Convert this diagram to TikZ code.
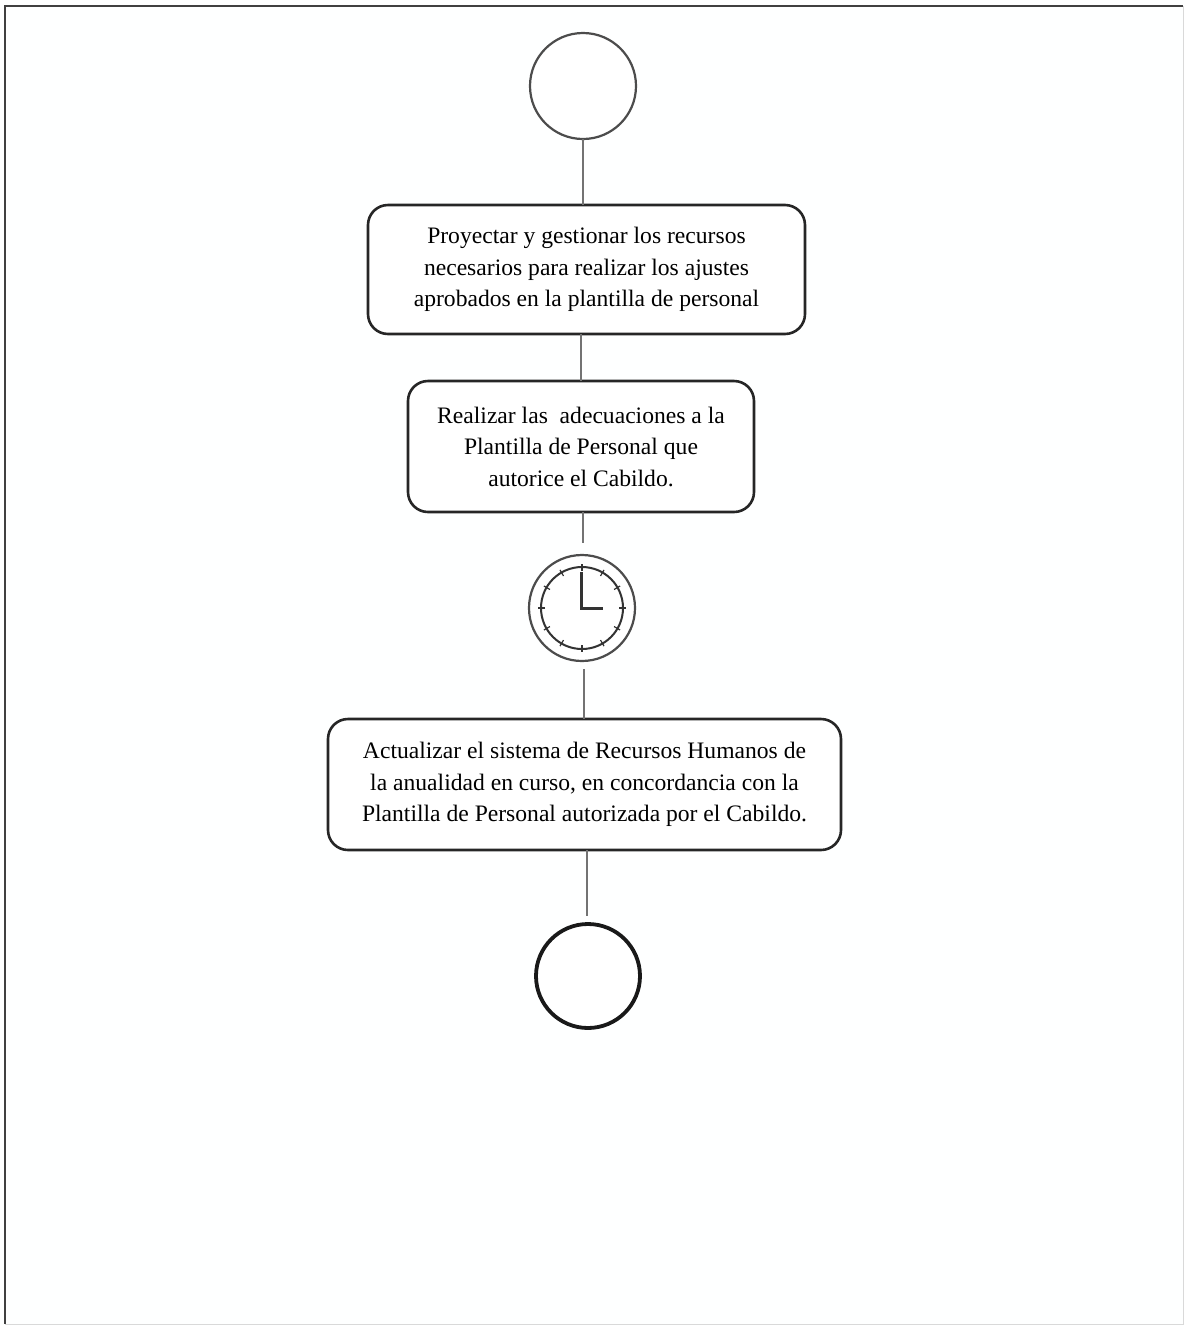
\documentclass[tikz,border=0pt]{standalone}
\usepackage{fontspec}
\setmainfont{Liberation Serif}
\tikzset{
  every node/.style={inner sep=0pt,outer sep=0pt},
  taskbox/.style={draw=black!85,line width=2.6pt,rounded corners=20pt,align=center,font=\fontsize{23.6}{31.5}\selectfont,fill=white},
  evt/.style={circle,draw=black!70,line width=2.2pt,minimum size=#1,fill=white},
  link/.style={draw=black!55,line width=2.4pt},
  clockline/.style={draw=black!80,line width=2pt}
}
\begin{document}
\begin{tikzpicture}[x=1pt,y=-1pt]
\useasboundingbox (0,0) rectangle (1184,1326);
\fill[white!99.5!cyan] (0,0) rectangle (1184,1326);
\draw[black!75,line width=1.6pt] (1183,6) -- (5,6) -- (5,1324);
\draw[black!15,line width=1pt] (5,1324) -- (1183,1324) -- (1183,6);
\node[evt=106pt] (start) at (583,86) {};
\node[taskbox,minimum width=437pt,minimum height=129pt] (a) at (586.5,269.5) {Proyectar y gestionar los recursos\\necesarios para realizar los ajustes\\aprobados en la plantilla de personal};
\node[taskbox,minimum width=346pt,minimum height=131pt] (b) at (581,446.5) {Realizar las\ \ adecuaciones a la\\Plantilla de Personal que\\autorice el Cabildo.};
\node[evt=106pt] (clock) at (582,608) {};
\node[circle,clockline,minimum size=82pt] (dial) at (clock) {};
\foreach \a in {0,30,...,330}
  \draw[clockline,line width=1.2pt] (clock)++(\a:37) -- ++(\a:7);
\coordinate (handup) at (581.5,572);
\coordinate (handright) at (603,608.5);
\draw[clockline,line width=2.4pt] (handup) -- (581.5,608.5) -- (handright);
\node[taskbox,minimum width=513pt,minimum height=131pt] (c) at (584.5,784.5) {Actualizar el sistema de Recursos Humanos de\\la anualidad en curso, en concordancia con la\\Plantilla de Personal autorizada por el Cabildo.};
\node[evt=104pt,line width=3.8pt,draw=black!90] (end) at (588,976) {};
\draw[link] (start.south) -- (a.north -| start.south);
\draw[link] (a.south -| 581,0) -- (b.north -| 581,0);
\coordinate (b0) at (583,512);
\coordinate (k0) at (583,543);
\draw[link] (b0) -- (k0);
\coordinate (k1) at (584,669);
\coordinate (c0) at (584,719);
\draw[link] (k1) -- (c0);
\coordinate (c1) at (587,850);
\coordinate (e0) at (587,916);
\draw[link] (c1) -- (e0);
\end{tikzpicture}
\end{document}
